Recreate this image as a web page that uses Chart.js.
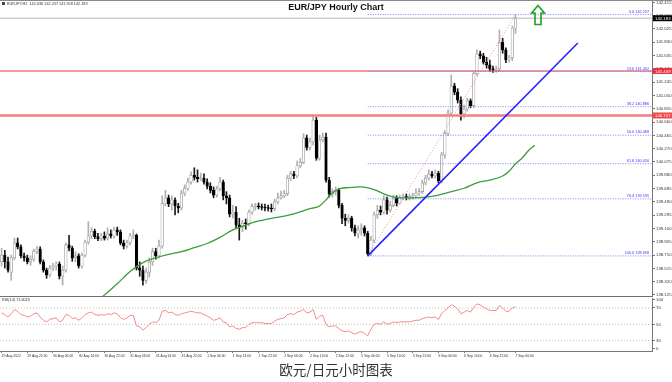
<!DOCTYPE html>
<html lang="zh">
<head>
<meta charset="UTF-8">
<title>EUR/JPY Hourly Chart</title>
<script src="https://cdn.jsdelivr.net/npm/chart.js@4"></script>
<style>
  * { box-sizing: border-box; margin: 0; padding: 0; }
  body { width: 672px; height: 382px; background: #fff; position: relative; overflow: hidden; font-family: 'Liberation Sans', Arial, sans-serif; }
  #mainBox { position: absolute; left: 0; top: 0; width: 672px; height: 296px; }
  #rsiBox { position: absolute; left: 0; top: 297px; width: 672px; height: 66px; }
  .sep { position: absolute; left: 0; top: 296px; width: 653px; height: 1px; background: #707070; }
  .topline { position: absolute; left: 0; top: 0; width: 672px; height: 1px; background: #8a8a8a; }
  .info { position: absolute; left: 2px; top: 2px; font-size: 3.8px; color: #333; white-space: nowrap; }
  .info i { display: inline-block; width: 3px; height: 3px; background: #444; margin-right: 2px; }
  .title { position: absolute; left: 0; top: 2px; width: 672px; text-align: center; font-weight: bold; font-size: 9px; color: #111; }
  .rsiLabel { position: absolute; left: 2px; top: 298px; font-size: 3.8px; color: #333; }
  .caption { position: absolute; left: 0; top: 360px; width: 672px; text-align: center; font-family: 'Noto Sans CJK SC', sans-serif; font-size: 13.5px; line-height: 18px; color: #333; }
</style>
</head>
<body>
  <div id="mainBox"><canvas id="mainChart"></canvas></div>
  <div id="rsiBox"><canvas id="rsiChart"></canvas></div>
  <div class="sep"></div>
  <div class="topline"></div>
  <div class="info"><i></i>EURJPY,H1&nbsp; 142.036 142.237 141.958 142.183</div>
  <div class="title">EUR/JPY Hourly Chart</div>
  <div class="rsiLabel">RSI(14) 71.6019</div>
  <div class="caption">欧元/日元小时图表</div>

<script>
// --- hourly candles, 29 Aug 14:00 .. 7 Sep 06:00 ---
var opens = [
  138.61,138.71,138.61,138.46,138.67,138.89,138.83,138.70,138.67,138.61,
  138.65,138.77,138.80,138.61,138.49,138.42,138.52,138.55,138.58,138.40,
  138.49,138.86,138.81,138.67,138.70,138.55,138.71,138.90,138.99,139.06,
  138.98,138.95,138.99,138.96,139.02,138.99,139.08,139.05,138.89,138.84,
  138.89,138.99,139.00,138.52,138.49,138.34,138.46,138.61,138.76,138.70,
  138.84,139.47,139.55,139.46,139.52,139.43,139.40,139.62,139.69,139.78,
  139.88,139.85,139.83,139.84,139.78,139.72,139.66,139.59,139.68,139.78,
  139.58,139.55,139.31,139.34,139.15,139.12,139.18,139.17,139.34,139.42,
  139.430,139.415,139.408,139.400,139.393,139.39,139.49,139.55,139.58,139.61,
  139.84,139.90,139.87,140.02,140.07,140.43,140.29,140.37,140.69,140.13,
  140.40,140.44,139.81,139.61,139.64,139.66,139.44,139.25,139.22,139.25,
  139.11,139.03,139.08,139.11,139.03,138.73,138.93,139.30,139.37,139.34,
  139.52,139.37,139.44,139.55,139.47,139.55,139.562,139.554,139.56,139.58,
  139.62,139.64,139.77,139.84,139.90,139.87,139.91,139.80,140.18,140.49,
  140.79,141.19,141.10,140.98,140.78,140.85,140.97,140.90,141.37,141.66,
  141.63,141.54,141.50,141.44,141.42,141.44,141.83,141.72,141.57,141.60,
  142.036
];
var highs = [
  138.81,138.78,138.68,138.71,138.96,138.96,138.86,138.74,138.71,138.70,
  138.80,138.84,138.83,138.64,138.52,138.56,138.59,138.61,138.61,138.55,
  138.89,139.00,138.84,138.76,138.73,138.74,138.93,139.20,139.11,139.09,
  139.03,139.03,139.05,139.11,139.08,139.12,139.12,139.08,138.93,138.93,
  139.03,139.08,139.02,138.61,138.55,138.52,138.67,138.81,138.81,138.93,
  139.58,139.66,139.59,139.58,139.55,139.47,139.66,139.74,139.84,139.93,
  139.99,139.96,139.91,139.90,139.83,139.77,139.71,139.72,139.85,139.81,
  139.64,139.59,139.44,139.42,139.25,139.22,139.24,139.37,139.46,139.47,
  139.474,139.459,139.459,139.444,139.459,139.53,139.62,139.65,139.66,139.88,
  139.94,139.94,140.09,140.13,140.49,140.47,140.43,140.76,140.73,140.47,
  140.50,140.50,139.85,139.68,139.71,139.69,139.47,139.31,139.30,139.28,
  139.15,139.14,139.17,139.14,139.06,138.99,139.34,139.44,139.43,139.58,
  139.56,139.50,139.59,139.58,139.59,139.61,139.606,139.606,139.62,139.68,
  139.69,139.81,139.88,139.96,139.94,139.96,139.94,140.22,140.53,140.84,
  141.35,141.23,141.15,141.03,140.91,141.01,141.00,141.39,141.72,141.70,
  141.67,141.61,141.57,141.48,141.48,142.01,141.89,141.75,141.64,142.07,
  142.237
];
var lows = [
  138.55,138.52,138.46,138.34,138.64,138.80,138.67,138.62,138.58,138.56,
  138.62,138.73,138.58,138.46,138.37,138.39,138.48,138.49,138.36,138.27,
  138.46,138.77,138.62,138.61,138.52,138.52,138.68,138.87,138.95,138.95,
  138.92,138.92,138.93,138.93,138.96,138.96,139.00,138.86,138.80,138.81,
  138.86,138.95,138.49,138.40,138.27,138.30,138.39,138.56,138.65,138.67,
  138.81,139.43,139.42,139.37,139.30,139.33,139.37,139.58,139.66,139.75,
  139.81,139.78,139.80,139.75,139.68,139.62,139.55,139.56,139.65,139.52,
  139.46,139.27,139.25,139.11,138.93,139.05,139.09,139.14,139.31,139.37,
  139.386,139.371,139.356,139.356,139.342,139.36,139.46,139.53,139.55,139.58,
  139.80,139.83,139.84,139.99,140.05,140.25,140.25,140.32,140.10,140.10,
  140.37,139.78,139.56,139.56,139.59,139.40,139.17,139.14,139.18,139.06,
  138.99,138.96,139.00,138.99,138.698,138.70,138.89,139.25,139.30,139.31,
  139.31,139.34,139.42,139.43,139.46,139.52,139.518,139.518,139.53,139.55,
  139.58,139.61,139.74,139.81,139.84,139.84,139.77,139.77,140.13,140.46,
  140.76,141.06,140.94,140.69,140.72,140.82,140.87,140.87,141.34,141.59,
  141.51,141.45,141.41,141.39,141.39,141.41,141.67,141.53,141.54,141.56,
  141.958
];
var closes = [
  138.71,138.61,138.49,138.67,138.89,138.83,138.70,138.67,138.61,138.65,
  138.77,138.80,138.61,138.49,138.42,138.52,138.55,138.58,138.40,138.49,
  138.86,138.81,138.67,138.70,138.55,138.71,138.90,138.99,139.06,138.98,
  138.95,138.99,138.96,139.02,138.99,139.08,139.05,138.89,138.84,138.89,
  138.99,139.00,138.52,138.49,138.34,138.46,138.61,138.76,138.70,138.84,
  139.47,139.55,139.46,139.52,139.43,139.40,139.62,139.69,139.78,139.88,
  139.85,139.83,139.84,139.78,139.72,139.66,139.59,139.68,139.78,139.58,
  139.55,139.31,139.34,139.15,139.12,139.18,139.17,139.34,139.42,139.43,
  139.415,139.408,139.400,139.393,139.386,139.49,139.55,139.58,139.61,139.84,
  139.90,139.87,140.02,140.07,140.43,140.29,140.37,140.69,140.13,140.40,
  140.44,139.81,139.61,139.64,139.66,139.44,139.25,139.22,139.25,139.11,
  139.03,139.08,139.11,139.03,138.73,138.93,139.30,139.37,139.34,139.52,
  139.37,139.44,139.55,139.47,139.55,139.56,139.554,139.562,139.58,139.62,
  139.64,139.77,139.84,139.90,139.87,139.91,139.80,140.18,140.49,140.79,
  141.19,141.10,140.98,140.78,140.85,140.97,140.90,141.37,141.66,141.63,
  141.54,141.50,141.44,141.42,141.44,141.83,141.72,141.57,141.60,142.04,
  142.183
];

// RSI(14)
var rsi = [
  64,62,59,63,68,66,62,61,59,60,
  63,64,59,55,53,56,57,58,53,55,
  62,61,57,58,55,58,62,64,65,62,
  61,62,61,63,62,64,63,58,56,58,
  61,61,48,47,43,46,50,53,52,55,
  66,67,64,65,62,61,63,64,65,66,
  65,64,64,62,60,58,55,56,58,53,
  52,47,48,45,44,46,46,50,52,52,
  52,52,51,51,51,54,56,57,58,62,
  63,62,65,66,68,64,65,68,56,60,
  61,50,47,48,48,45,42,41,42,40,
  38,40,41,39,36,44,50,51,50,53,
  50,51,53,52,53,53,53,53,54,55,
  55,57,58,59,58,59,56,63,67,70,
  74,72,69,63,65,67,65,71,75,74,
  71,69,67,67,67,73,70,66,66,70,
  71.6
];
var rsiLevels = [30, 50, 70];

// moving average (shifted), read at candle positions
var maIdx  = [30, 32, 36, 40, 44, 48, 52, 56, 60, 64, 68, 72, 76, 80, 84, 88, 92, 96, 99, 101, 103, 105, 108, 112, 116, 120, 124, 128, 132, 136, 140, 144, 148, 152, 156, 158, 160, 162, 164, 166];
var maVals = [138.05, 138.125, 138.29, 138.47, 138.60, 138.67, 138.72, 138.76, 138.82, 138.88, 138.97, 139.08, 139.15, 139.21, 139.25, 139.28, 139.33, 139.39, 139.43, 139.52, 139.62, 139.68, 139.70, 139.71, 139.67, 139.59, 139.55, 139.55, 139.56, 139.59, 139.64, 139.69, 139.77, 139.81, 139.87, 139.94, 140.05, 140.13, 140.24, 140.32];

// fibonacci retracement 138.698 -> 142.237
var fibPct  = ['0.0', '23.6', '38.2', '50.0', '61.8', '76.4', '100.0'];
var fibVals = [142.237, 141.402, 140.886, 140.468, 140.050, 139.535, 138.698];
var fibFrom = 114, fibTo = 160;

// trend line and horizontal levels
var trendIdx  = [114, 179.4];
var trendVals = [138.698, 141.82];
var redLevels = [141.409, 140.757];
var bidPrice  = 142.183;
var arrowIdx = 167, arrowVal = 142.23;

// axis tags on the price scale
var tagVals   = [142.183, 141.409, 140.757];
var tagColors = ['#000000', '#e8323f', '#f04848'];

// ticks
var priceTicks = [138.125, 138.320, 138.515, 138.710, 138.905, 139.100, 139.295, 139.490, 139.685, 139.880, 140.075, 140.270, 140.465, 140.660, 140.855, 141.050, 141.245, 141.440, 141.635, 141.830, 142.025, 142.220, 142.415];
var rsiTickVals = [20.2, 30, 50, 70, 80.6];
var rsiTickText = ['0', '30', '50', '70', '100'];
var tickIdx = [0, 8, 16, 24, 32, 40, 48, 56, 64, 72, 80, 88, 96, 104, 112, 120, 128, 136, 144, 152, 160];
var tickLabels = ['29 Aug 2022', '29 Aug 22:00', '30 Aug 06:00', '30 Aug 14:00', '30 Aug 22:00', '31 Aug 06:00', '31 Aug 14:00', '31 Aug 22:00', '1 Sep 06:00', '1 Sep 14:00', '1 Sep 22:00', '2 Sep 06:00', '2 Sep 14:00', '2 Sep 22:00', '5 Sep 06:00', '5 Sep 14:00', '5 Sep 22:00', '6 Sep 06:00', '6 Sep 14:00', '6 Sep 22:00', '7 Sep 06:00'];

// view window
var xMin = -0.5, xMax = 202.5;
var yMin = 138.1103, yMax = 142.4355;
var rsiMin = 17.4, rsiMax = 82.23;

Chart.defaults.font.family = "'Liberation Sans', Arial, sans-serif";

var idx = opens.map(function (_, i) { return i; });
function isUp(i) { return closes[i] >= opens[i]; }

function arrowImage() {
  var c = document.createElement('canvas'); c.width = 16; c.height = 22;
  var g = c.getContext('2d');
  g.strokeStyle = '#1f9e1f'; g.lineWidth = 1.6;
  g.beginPath();
  g.moveTo(8, 1.5); g.lineTo(14.5, 9); g.lineTo(11, 9); g.lineTo(11, 20.5);
  g.lineTo(5, 20.5); g.lineTo(5, 9); g.lineTo(1.5, 9); g.closePath();
  g.stroke();
  return c;
}

function hLine(v, color, width, dash, from, order) {
  return { type: 'line', data: [{ x: from, y: v }, { x: xMax, y: v }], borderColor: color, borderWidth: width,
           borderDash: dash || [], pointRadius: 0, order: order };
}

var overlay = {
  id: 'overlay',
  afterDraw: function (chart) {
    var ctx = chart.ctx, area = chart.chartArea, y = chart.scales.y;
    ctx.save();
    ctx.font = "3.8px 'Liberation Sans'";
    ctx.textAlign = 'right'; ctx.textBaseline = 'bottom'; ctx.fillStyle = '#3a3aff';
    fibVals.forEach(function (v, i) {
      ctx.fillText(fibPct[i] + ' ' + v.toFixed(3), area.right - 3, y.getPixelForValue(v) - 1);
    });
    ctx.font = "4.3px 'Liberation Sans'";
    ctx.textAlign = 'left'; ctx.textBaseline = 'middle';
    tagVals.forEach(function (v, i) {
      var py = y.getPixelForValue(v);
      ctx.fillStyle = tagColors[i]; ctx.fillRect(area.right + 1, py - 3, 19, 6);
      ctx.fillStyle = '#fff'; ctx.fillText(v.toFixed(3), area.right + 3, py + 0.5);
    });
    ctx.restore();
  }
};

var mainSets = [
  hLine(bidPrice, '#cfcfcf', 1.5, null, xMin, 20),
  hLine(redLevels[0], '#e8323f', 1, null, xMin, 3),
  hLine(redLevels[1], '#f28080', 2.5, null, xMin, 3)
];
fibVals.forEach(function (v) { mainSets.push(hLine(v, '#8080ff', 1, [1, 1.5], fibFrom, 2)); });
mainSets.push(
  { type: 'line', data: [{ x: fibFrom, y: fibVals[6] }, { x: fibTo, y: fibVals[0] }], borderColor: '#ff8080',
    borderWidth: 1, borderDash: [1, 2], pointRadius: 0, order: 2 },
  { type: 'line', data: trendIdx.map(function (x, i) { return { x: x, y: trendVals[i] }; }), borderColor: '#2424ff',
    borderWidth: 1.6, pointRadius: 0, order: 1 },
  { type: 'line', data: maIdx.map(function (x, i) { return { x: x, y: maVals[i] }; }), borderColor: '#3c9c3c',
    borderWidth: 1.3, pointRadius: 0, cubicInterpolationMode: 'monotone', order: 1 },
  { type: 'line', data: [{ x: arrowIdx, y: arrowVal }], showLine: false, pointStyle: arrowImage(), pointRadius: 10, order: 0 },
  { type: 'bar', data: idx.map(function (i) { return { x: i, y: [lows[i], highs[i]] }; }), grouped: false, barThickness: 1,
    backgroundColor: function (c) { return isUp(c.dataIndex) ? '#b0b0b0' : '#1a1a1a'; }, order: 6 },
  { type: 'bar', data: idx.map(function (i) { return { x: i, y: [opens[i], closes[i]] }; }), grouped: false, barThickness: 2.6,
    minBarLength: 1, borderSkipped: false, borderWidth: 0.7,
    backgroundColor: function (c) { return isUp(c.dataIndex) ? '#ffffff' : '#000000'; },
    borderColor: function (c) { return isUp(c.dataIndex) ? '#949494' : '#000000'; }, order: 5 }
);

new Chart(document.getElementById('mainChart'), {
  type: 'bar',
  data: { datasets: mainSets },
  options: {
    responsive: true, maintainAspectRatio: false, animation: false, devicePixelRatio: 1,
    layout: { autoPadding: false, padding: { top: 1, bottom: 0, left: 0, right: 0 } },
    plugins: { legend: { display: false }, tooltip: { enabled: false } },
    scales: {
      x: { type: 'linear', min: xMin, max: xMax, offset: false, display: false },
      y: {
        position: 'right', min: yMin, max: yMax,
        afterBuildTicks: function (s) { s.ticks = priceTicks.map(function (v) { return { value: v }; }); },
        afterFit: function (s) { s.width = 20; s.paddingTop = 0; s.paddingBottom = 0; },
        ticks: { font: { size: 4.3 }, color: '#333', padding: 1, autoSkip: false,
                 callback: function (v) { return v.toFixed(3); } },
        grid: { drawOnChartArea: false, tickLength: 3, color: '#777' },
        border: { color: '#777', width: 1 }
      }
    }
  },
  plugins: [overlay]
});

var rsiSets = [
  { type: 'line', data: idx.map(function (i) { return { x: i, y: rsi[i] }; }), borderColor: '#f38a8a',
    borderWidth: 1, pointRadius: 0, order: 1 }
];
rsiLevels.forEach(function (v) { rsiSets.push(hLine(v, '#bdbdbd', 1, [1, 2], xMin, 2)); });

new Chart(document.getElementById('rsiChart'), {
  type: 'line',
  data: { datasets: rsiSets },
  options: {
    responsive: true, maintainAspectRatio: false, animation: false, devicePixelRatio: 1,
    layout: { autoPadding: false, padding: { top: 1, bottom: 0, left: 0, right: 0 } },
    plugins: { legend: { display: false }, tooltip: { enabled: false } },
    scales: {
      x: {
        type: 'linear', min: xMin, max: xMax, offset: false,
        afterBuildTicks: function (s) { s.ticks = tickIdx.map(function (v) { return { value: v }; }); },
        afterFit: function (s) { s.height = 12; s.paddingLeft = 0; s.paddingRight = 0; },
        ticks: { font: { size: 3.4 }, color: '#333', padding: 1.5, autoSkip: false, maxRotation: 0, align: 'start',
                 callback: function (v, i) { return tickLabels[i]; } },
        grid: { drawOnChartArea: false, tickLength: 2, color: '#777' },
        border: { color: '#777', width: 1 }
      },
      y: {
        position: 'right', min: rsiMin, max: rsiMax,
        afterBuildTicks: function (s) { s.ticks = rsiTickVals.map(function (v) { return { value: v }; }); },
        afterFit: function (s) { s.width = 20; s.paddingTop = 0; s.paddingBottom = 0; },
        ticks: { font: { size: 4.3 }, color: '#333', padding: 1, autoSkip: false,
                 callback: function (v, i) { return rsiTickText[i]; } },
        grid: { drawOnChartArea: false, tickLength: 3, color: '#777' },
        border: { color: '#777', width: 1 }
      }
    }
  }
});
</script>
</body>
</html>
